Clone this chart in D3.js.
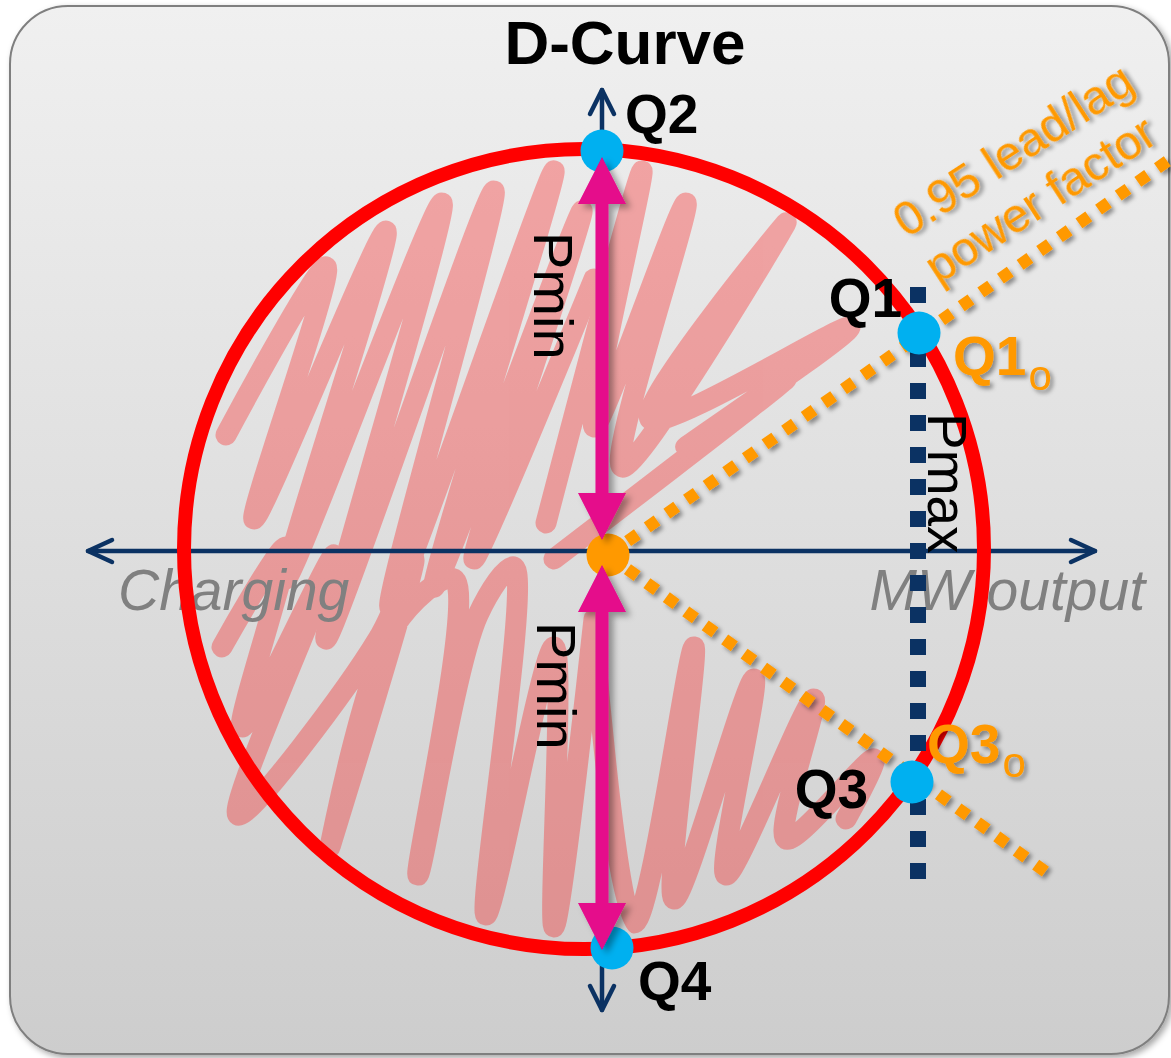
<!DOCTYPE html>
<html><head><meta charset="utf-8">
<script src="https://cdn.jsdelivr.net/npm/d3@7"></script>
<style>html,body{margin:0;padding:0;background:#fff;} svg{display:block;}</style>
</head><body>
<svg id="chart" width="1171" height="1058"></svg>
<script>
// ---------------- data (P = MW axis, Q = reactive axis, % of Pmax) ----------------
const title = "D-Curve";
const axisLabels = ["Charging", "MW output"];
const curveCenter = [-4.5, 0.5];
const curveRadius = 100;
const qNames = ["Q1", "Q2", "Q3", "Q4"];
const qP = [79.25, 0, 77.5, 2.5];
const qQ = [54.5, 100, -57.75, -99.25];
const originPoint = [1.5, -1];
const pAxisExtent = [-128.5, 123.25];
const qAxisExtent = [-114.75, 115.25];
const pmaxP = 79;
const pmaxQ = [66, -82];
const pfEnds = [[143.5, 99], [112, -81]];
const pfOLabels = ["Q1", "Q3"];
const pfLabel = ["0.95 lead/lag", "power factor"];
const pminArrows = [[2.75, 98.5], [-3.5, -99.75]];
const pminLabel = "Pmin";
const pmaxLabel = "Pmax";
// hand-drawn "forbidden zone" scribble
const scribbleA = [[-94,29],[-69,71],[-87,8],[-54,80],[-79,-7],[-40,87],[-69,-22],[-27,90],[-53,-14],[-12,95],[-42,-9],[-5,85],[-32,-2],[-2,68]];
const scribbleB = [[-14,7],[10,95],[-2,31],[21,87],[5,21],[46,82],[12,33],[62,56],[21,26],[46,43],[-12,-2]];
const scribbleC = [[-95,-24],[-79,1],[-90,-44],[-67,-1],[-91,-66],[-56,-22],[-47,-2],[-68,-74],[-52,-19],[-37,-7],[-46,-81],[-31,-16],[-22,-4],[-29,-91],[-12,-24],[-12,-94],[-2,-17]];
const scribbleD = [[-2,-22],[8,-93],[23,-24],[18,-87],[38,-32],[31,-81],[53,-37],[46,-72],[68,-52],[61,-67]];

// ---------------- layout ----------------
const W = 1171, H = 1058;
const x = d3.scaleLinear().domain([-100, 100]).range([202, 1002]);
const y = d3.scaleLinear().domain([-100, 100]).range([951, 151]);
const FONT = "'Liberation Sans', Arial, Helvetica, sans-serif";
const NAVY = "#0b3263", ORANGE = "#ff9900", BLUE = "#00b0f0", MAGENTA = "#e5088b";

const svg = d3.select("#chart");
const defs = svg.append("defs");
const g1 = defs.append("linearGradient").attr("id", "bg").attr("x1", 0).attr("y1", 0).attr("x2", 0).attr("y2", 1);
g1.append("stop").attr("offset", "0%").attr("stop-color", "#f0f0f0");
g1.append("stop").attr("offset", "100%").attr("stop-color", "#cdcdcd");
function shadow(id, dx, dy, sd, op) {
  const f = defs.append("filter").attr("id", id).attr("x", "-20%").attr("y", "-20%").attr("width", "150%").attr("height", "150%");
  f.append("feDropShadow").attr("dx", dx).attr("dy", dy).attr("stdDeviation", sd).attr("flood-color", "#000").attr("flood-opacity", op);
}
shadow("panelSh", 3, 3, 3, 0.35);
shadow("sh", 3, 3, 2, 0.4);
shadow("arrSh", 5, 4, 3, 0.35);

// panel
svg.append("rect").attr("x", 10).attr("y", 6).attr("width", 1159).attr("height", 1048).attr("rx", 58)
  .attr("fill", "url(#bg)").attr("stroke", "#7f7f7f").attr("stroke-width", 2).attr("filter", "url(#panelSh)");

// scribble
const line = d3.line().x(d => x(d[0])).y(d => y(d[1])).curve(d3.curveCatmullRom.alpha(0.5));
const scr = svg.append("g").attr("opacity", 0.3);
scr.selectAll("path").data([scribbleA, scribbleB, scribbleC, scribbleD]).join("path")
  .attr("d", line).attr("fill", "none").attr("stroke", "#ff0000").attr("stroke-width", 21)
  .attr("stroke-linecap", "round").attr("stroke-linejoin", "round");

// axis labels
svg.append("text").text(axisLabels[0]).attr("x", 118).attr("y", 610)
  .attr("font-family", FONT).attr("font-style", "italic").attr("font-size", 57).attr("fill", "#808080");
svg.append("text").text(axisLabels[1]).attr("x", 1145).attr("y", 610).attr("text-anchor", "end")
  .attr("font-family", FONT).attr("font-style", "italic").attr("font-size", 57).attr("fill", "#808080");

// axes
const ax = svg.append("g").attr("stroke", NAVY).attr("stroke-width", 4.5).attr("fill", "none")
  .attr("stroke-linecap", "round").attr("stroke-linejoin", "round");
const x0 = x(0), y0 = y(0);
ax.append("line").attr("x1", x(pAxisExtent[0])).attr("x2", x(pAxisExtent[1])).attr("y1", y0).attr("y2", y0);
ax.append("line").attr("y1", y(qAxisExtent[0])).attr("y2", y(qAxisExtent[1])).attr("x1", x0).attr("x2", x0);
const L = 24, Hh = 11;
const lx = x(pAxisExtent[0]), rx = x(pAxisExtent[1]), ty = y(qAxisExtent[1]), by = y(qAxisExtent[0]);
ax.append("path").attr("d", `M${lx + L},${y0 - Hh}L${lx},${y0}L${lx + L},${y0 + Hh}`);
ax.append("path").attr("d", `M${rx - L},${y0 - Hh}L${rx},${y0}L${rx - L},${y0 + Hh}`);
ax.append("path").attr("d", `M${x0 - Hh - 1},${ty + L}L${x0},${ty}L${x0 + Hh + 1},${ty + L}`);
ax.append("path").attr("d", `M${x0 - Hh - 1},${by - L}L${x0},${by}L${x0 + Hh + 1},${by - L}`);

// D-curve circle
svg.append("circle").attr("cx", x(curveCenter[0])).attr("cy", y(curveCenter[1]))
  .attr("r", x(curveRadius) - x(0)).attr("fill", "none").attr("stroke", "#ff0000").attr("stroke-width", 14);

// Pmax dashed line
svg.append("line").attr("x1", x(pmaxP)).attr("x2", x(pmaxP)).attr("y1", y(pmaxQ[0])).attr("y2", y(pmaxQ[1]))
  .attr("stroke", NAVY).attr("stroke-width", 16).attr("stroke-dasharray", "16 16");

// power factor lines
svg.append("g").attr("filter", "url(#sh)").selectAll("line").data(pfEnds).join("line")
  .attr("x1", x(originPoint[0])).attr("y1", y(originPoint[1]))
  .attr("x2", d => x(d[0])).attr("y2", d => y(d[1]))
  .attr("stroke", ORANGE).attr("stroke-width", 12).attr("stroke-dasharray", "12 12");

// points
svg.append("g").selectAll("circle").data(qNames).join("circle")
  .attr("cx", (d, i) => x(qP[i])).attr("cy", (d, i) => y(qQ[i])).attr("r", 21.5).attr("fill", BLUE);
svg.append("circle").attr("cx", x(originPoint[0])).attr("cy", y(originPoint[1])).attr("r", 21.5).attr("fill", ORANGE);

// Pmin double arrows
function dblArrow(cx, ya, yb) {
  const h = 47, hw = 24, sw = 6.5;
  return `M${cx},${ya}L${cx + hw},${ya + h}L${cx + sw},${ya + h}L${cx + sw},${yb - h}L${cx + hw},${yb - h}L${cx},${yb}` +
    `L${cx - hw},${yb - h}L${cx - sw},${yb - h}L${cx - sw},${ya + h}L${cx - hw},${ya + h}Z`;
}
svg.append("g").attr("filter", "url(#arrSh)").selectAll("path").data(pminArrows).join("path")
  .attr("d", d => dblArrow(x(0), Math.min(y(d[0]), y(d[1])), Math.max(y(d[0]), y(d[1]))))
  .attr("fill", MAGENTA);

// Q labels (black)
const qLabelOffsets = { Q1: [-17, -16, "end"], Q2: [23, -18, "start"], Q3: [-44, 26, "end"], Q4: [26, 52, "start"] };
svg.append("g").selectAll("text").data(qNames).join("text")
  .text(d => d)
  .attr("x", (d, i) => x(qP[i]) + qLabelOffsets[d][0])
  .attr("y", (d, i) => y(qQ[i]) + qLabelOffsets[d][1])
  .attr("text-anchor", d => qLabelOffsets[d][2])
  .attr("font-family", FONT).attr("font-weight", "bold").attr("font-size", 55).attr("fill", "#000");

// Q1o / Q3o labels (orange)
const oOffsets = { Q1: [34, 42, 15], Q3: [15, -19, 14] };
pfOLabels.forEach(name => {
  const i = qNames.indexOf(name);
  const t = svg.append("text").attr("x", x(qP[i]) + oOffsets[name][0]).attr("y", y(qQ[i]) + oOffsets[name][1])
    .attr("font-family", FONT).attr("fill", ORANGE).attr("filter", "url(#sh)");
  t.append("tspan").text(name).attr("font-weight", "bold").attr("font-size", 55);
  t.append("tspan").text("o").attr("font-size", 42).attr("dy", oOffsets[name][2]).attr("dx", 2);
});

// Pmin / Pmax rotated labels
const pminTextOffsets = [[-68, 75], [-65, 57]];
pminArrows.forEach((d, i) => {
  const top = Math.min(y(d[0]), y(d[1]));
  svg.append("text").text(pminLabel)
    .attr("transform", `translate(${x(0) + pminTextOffsets[i][0]},${top + pminTextOffsets[i][1]}) rotate(90)`)
    .attr("font-family", FONT).attr("font-size", 56).attr("fill", "#000");
});
svg.append("text").text(pmaxLabel)
  .attr("transform", `translate(${x(pmaxP) + 10},${y(pmaxQ[0]) + 126}) rotate(90)`)
  .attr("font-family", FONT).attr("font-size", 55).attr("fill", "#000");

// power factor label
const pfg = svg.append("g").attr("transform", "translate(1022,164) rotate(-33)").attr("filter", "url(#sh)");
pfg.selectAll("text").data(pfLabel).join("text")
  .text(d => d).attr("x", (d, i) => i ? -4 : 0).attr("y", (d, i) => i * 56)
  .attr("text-anchor", "middle").attr("font-family", FONT).attr("font-size", 48).attr("fill", ORANGE);

// title
svg.append("text").text(title).attr("x", 625).attr("y", 64).attr("text-anchor", "middle")
  .attr("font-family", FONT).attr("font-weight", "bold").attr("font-size", 62).attr("fill", "#000");
</script>
</body></html>
